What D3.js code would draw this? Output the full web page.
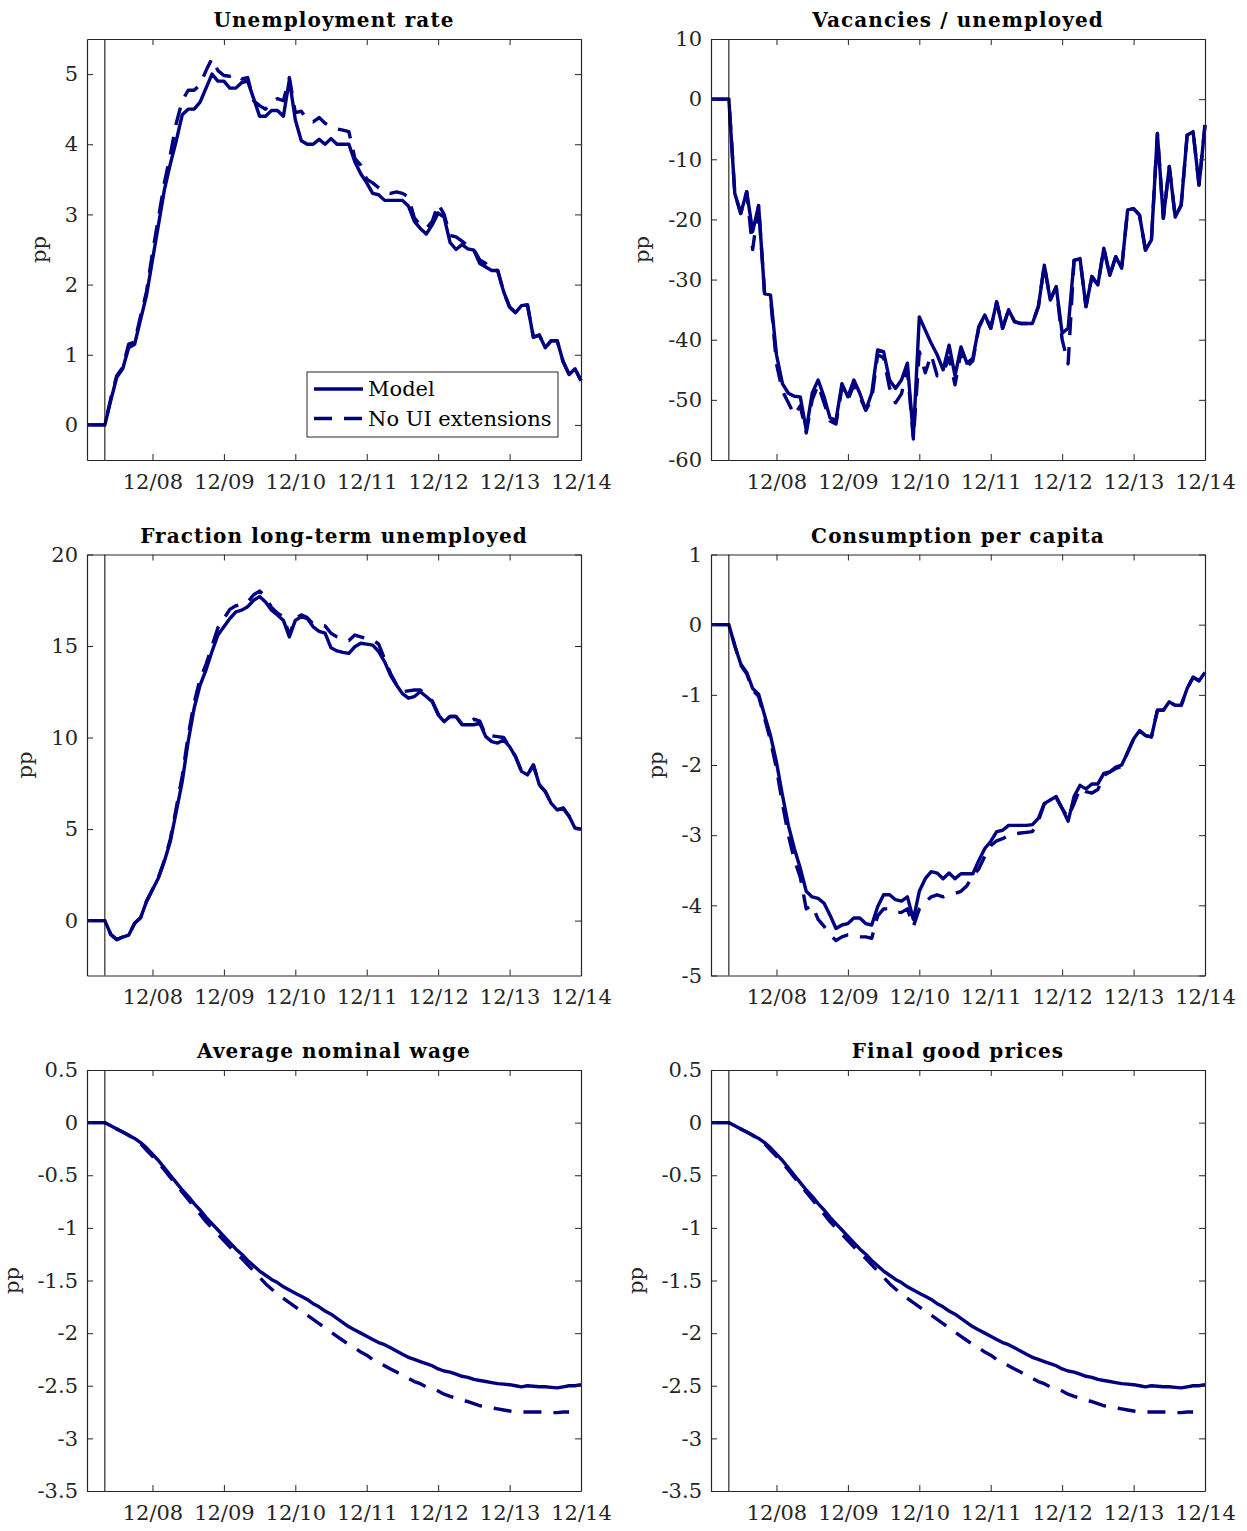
<!DOCTYPE html>
<html><head><meta charset="utf-8">
<script src="https://cdn.jsdelivr.net/npm/d3@7/dist/d3.min.js"></script>
<style>body{margin:0;background:#fff}svg{display:block}</style>
</head><body>
<svg id="chart" width="1247" height="1531"></svg>
<script>
// month index 0 = Jan 2008 ... 83 = Dec 2014
const monthIdx = d3.range(84);
const shockMonth = 3;
const xTickMonths = [11, 23, 35, 47, 59, 71, 83];
const xTickLabels = ["12/08", "12/09", "12/10", "12/11", "12/12", "12/13", "12/14"];
const seriesNames = ["Model", "No UI extensions"];

const titles = ["Unemployment rate", "Vacancies / unemployed", "Fraction long-term unemployed",
                "Consumption per capita", "Average nominal wage", "Final good prices"];
const yDomains = [[-0.5, 5.5], [-60, 10], [-3, 20], [-5, 1], [-3.5, 0.5], [-3.5, 0.5]];
const yTicks = [
  [0, 1, 2, 3, 4, 5],
  [-60, -50, -40, -30, -20, -10, 0, 10],
  [0, 5, 10, 15, 20],
  [-5, -4, -3, -2, -1, 0, 1],
  [-3.5, -3, -2.5, -2, -1.5, -1, -0.5, 0, 0.5],
  [-3.5, -3, -2.5, -2, -1.5, -1, -0.5, 0, 0.5]
];

const unempModel = [
  0,0,0,0,0.35,0.68,0.8,1.1,1.15,1.5,1.85,
  2.35,2.85,3.35,3.72,4.05,4.42,4.5,4.5,4.6,4.8,
  5.0,4.9,4.9,4.8,4.8,4.88,4.9,4.65,4.4,4.4,
  4.48,4.48,4.4,4.92,4.35,4.05,4.0,4.0,4.07,4.0,
  4.08,4.0,4.0,4.0,3.75,3.58,3.45,3.3,3.28,3.2,
  3.2,3.2,3.2,3.12,2.9,2.8,2.72,2.85,3.02,2.96,
  2.6,2.5,2.57,2.51,2.49,2.3,2.25,2.2,2.2,1.9,
  1.68,1.6,1.7,1.71,1.25,1.28,1.1,1.2,1.2,0.9,
  0.72,0.8,0.63];
const unempNoUI = [
  0,0,0,0,0.38,0.7,0.82,1.15,1.18,1.55,1.9,
  2.45,2.95,3.45,3.85,4.3,4.62,4.77,4.77,4.85,5.05,
  5.22,5.05,4.98,4.97,5.0,4.93,4.95,4.62,4.55,4.5,
  4.6,4.65,4.62,4.95,4.45,4.47,4.35,4.32,4.38,4.3,
  4.25,4.22,4.2,4.18,3.8,3.7,3.5,3.45,3.38,3.32,
  3.3,3.32,3.3,3.25,2.95,2.85,2.8,2.9,3.15,3.0,
  2.7,2.68,2.62,2.55,2.5,2.35,2.3,2.2,2.2,1.9,
  1.68,1.6,1.7,1.71,1.25,1.28,1.1,1.2,1.2,0.9,
  0.72,0.8,0.63];

const vuModel = [
  0,0,0,0,-15.7,-19,-15.4,-22,-17.7,-32.3,-32.6,
  -42.5,-47.3,-48.9,-49.4,-49.5,-55,-48.9,-46.7,-49.5,-53,
  -53.4,-47.3,-49.5,-46.7,-48.9,-51.7,-48.9,-41.7,-42,-46.7,
  -48.1,-46.7,-43.9,-56.1,-36.2,-38.4,-40.6,-42.5,-45,-40.9,
  -46,-41.2,-43.9,-43.1,-37.8,-35.9,-38.1,-33.7,-38.1,-35,
  -37,-37.3,-37.3,-37.3,-34.5,-27.6,-33.4,-31.2,-38.9,-38.1,
  -26.8,-26.5,-34.5,-29.5,-30.9,-24.8,-29.3,-26.2,-28.1,-18.4,
  -18.2,-19.3,-25.1,-23.4,-5.7,-19.8,-11.2,-19.6,-17.6,-6.0,
  -5.4,-14.3,-4.3];
const vuNoUI = [
  0,0,0,0,-15.7,-19,-15.4,-25,-17.7,-32.3,-33,
  -44,-48.5,-50.5,-52.5,-51,-55.5,-50,-47.5,-50.5,-53.5,
  -54,-48,-50,-47.5,-49.5,-51.7,-50,-42.5,-43,-48,
  -50.5,-49,-45,-56.5,-42,-45.5,-42.5,-46,-45.5,-43,
  -47.5,-42,-44.5,-43.5,-38,-35.9,-38.1,-33.7,-38.1,-35,
  -37,-37.3,-37.3,-37.3,-34.5,-27.6,-33.4,-31.2,-40,-44,
  -26.8,-26.5,-34.5,-29.5,-30.9,-24.8,-29.3,-26.2,-28.1,-18.4,
  -18.2,-19.3,-25.1,-23.4,-5.7,-19.8,-11.2,-19.6,-17.6,-6.0,
  -5.4,-14.3,-4.3];

const ltuModel = [
  0,0,0,0,-0.76,-1.04,-0.9,-0.8,-0.15,0.15,1.05,
  1.69,2.33,3.24,4.33,5.96,7.6,9.78,11.6,12.87,13.7,
  14.7,15.6,16.05,16.5,16.87,16.96,17.15,17.5,17.7,17.4,
  16.96,16.7,16.4,15.5,16.4,16.6,16.5,16.05,15.8,15.7,
  14.9,14.73,14.65,14.6,14.96,15.15,15.1,15.05,14.7,14.15,
  13.4,12.87,12.4,12.15,12.24,12.5,12.24,11.96,11.24,10.87,
  11.15,11.15,10.7,10.7,10.7,10.78,10.05,9.78,9.7,9.87,
  9.5,8.96,8.15,7.96,8.5,7.42,7.05,6.4,6.05,6.15,
  5.7,5.05,5.0];
const ltuNoUI = [
  0,0,0,0,-0.76,-1.04,-0.9,-0.8,-0.15,0.15,1.05,
  1.7,2.35,3.3,4.45,6.15,7.9,10.1,11.9,13.2,14.0,
  15.0,16.0,16.5,17.0,17.2,17.25,17.4,17.8,18.0,17.7,
  17.1,16.8,16.6,15.6,16.5,16.7,16.55,16.2,16.15,16.1,
  15.7,15.5,15.4,15.3,15.6,15.5,15.4,15.35,15.1,14.3,
  13.5,12.9,12.5,12.55,12.6,12.6,12.3,12.0,11.3,10.9,
  11.15,11.15,10.75,10.8,11.0,10.9,10.1,10.1,10.05,10.0,
  9.5,8.96,8.15,7.96,8.5,7.42,7.05,6.4,6.05,6.15,
  5.7,5.05,5.0];

const consModel = [
  0,0,0,0,-0.3,-0.56,-0.68,-0.91,-0.99,-1.29,-1.58,
  -1.96,-2.43,-2.86,-3.19,-3.47,-3.8,-3.88,-3.9,-3.97,-4.14,
  -4.33,-4.28,-4.26,-4.18,-4.18,-4.26,-4.28,-4.02,-3.85,-3.85,
  -3.92,-3.94,-3.88,-4.2,-3.8,-3.62,-3.52,-3.54,-3.62,-3.54,
  -3.62,-3.55,-3.55,-3.55,-3.36,-3.19,-3.09,-2.95,-2.93,-2.86,
  -2.86,-2.86,-2.86,-2.85,-2.76,-2.55,-2.5,-2.45,-2.62,-2.8,
  -2.45,-2.29,-2.34,-2.27,-2.27,-2.12,-2.1,-2.03,-2.0,-1.82,
  -1.63,-1.51,-1.58,-1.6,-1.22,-1.22,-1.1,-1.15,-1.15,-0.91,
  -0.75,-0.8,-0.68];
const consNoUI = [
  0,0,0,0,-0.3,-0.58,-0.7,-0.93,-1.02,-1.33,-1.65,
  -2.05,-2.55,-3.0,-3.35,-3.6,-4.05,-4.0,-4.2,-4.3,-4.42,
  -4.5,-4.45,-4.42,-4.42,-4.45,-4.45,-4.47,-4.15,-4.05,-4.05,
  -4.1,-4.1,-4.05,-4.3,-4.05,-3.95,-3.88,-3.85,-3.88,-3.85,
  -3.83,-3.8,-3.72,-3.58,-3.48,-3.3,-3.15,-3.08,-3.05,-3.0,
  -2.98,-2.97,-2.96,-2.95,-2.8,-2.55,-2.52,-2.47,-2.62,-2.75,
  -2.55,-2.33,-2.38,-2.4,-2.35,-2.15,-2.1,-2.05,-2.02,-1.82,
  -1.63,-1.51,-1.58,-1.6,-1.22,-1.22,-1.1,-1.15,-1.15,-0.91,
  -0.75,-0.8,-0.68];

const wageModel = [
  0,0,0,0,-0.03,-0.06,-0.09,-0.12,-0.15,-0.19,-0.24,
  -0.3,-0.36,-0.43,-0.5,-0.57,-0.64,-0.7,-0.77,-0.83,-0.9,
  -0.96,-1.02,-1.08,-1.14,-1.2,-1.25,-1.31,-1.36,-1.41,-1.45,
  -1.49,-1.52,-1.56,-1.59,-1.62,-1.65,-1.68,-1.72,-1.75,-1.79,
  -1.82,-1.86,-1.9,-1.94,-1.97,-2.0,-2.03,-2.06,-2.09,-2.11,
  -2.14,-2.17,-2.2,-2.23,-2.25,-2.27,-2.29,-2.31,-2.34,-2.36,
  -2.37,-2.39,-2.41,-2.42,-2.44,-2.45,-2.46,-2.47,-2.48,-2.485,
  -2.49,-2.5,-2.51,-2.5,-2.505,-2.51,-2.51,-2.515,-2.52,-2.51,
  -2.5,-2.5,-2.49];
const wageNoUI = [
  0,0,0,0,-0.03,-0.06,-0.09,-0.12,-0.16,-0.2,-0.26,
  -0.32,-0.38,-0.45,-0.52,-0.59,-0.66,-0.73,-0.8,-0.87,-0.94,
  -1.0,-1.06,-1.12,-1.18,-1.24,-1.29,-1.35,-1.41,-1.47,-1.53,
  -1.58,-1.63,-1.67,-1.71,-1.75,-1.79,-1.83,-1.87,-1.91,-1.95,
  -1.99,-2.03,-2.07,-2.11,-2.14,-2.18,-2.21,-2.25,-2.28,-2.31,
  -2.34,-2.37,-2.4,-2.43,-2.46,-2.48,-2.51,-2.53,-2.55,-2.58,
  -2.6,-2.62,-2.64,-2.65,-2.67,-2.69,-2.7,-2.71,-2.72,-2.73,
  -2.74,-2.75,-2.75,-2.75,-2.75,-2.75,-2.75,-2.755,-2.755,-2.75,
  -2.75];

const priceModel = [
  0,0,0,0,-0.03,-0.06,-0.09,-0.12,-0.15,-0.19,-0.24,
  -0.3,-0.36,-0.43,-0.5,-0.57,-0.64,-0.7,-0.77,-0.83,-0.9,
  -0.96,-1.02,-1.08,-1.14,-1.2,-1.25,-1.31,-1.36,-1.41,-1.45,
  -1.49,-1.52,-1.56,-1.59,-1.62,-1.65,-1.68,-1.72,-1.75,-1.79,
  -1.82,-1.86,-1.9,-1.94,-1.97,-2.0,-2.03,-2.06,-2.09,-2.11,
  -2.14,-2.17,-2.2,-2.23,-2.25,-2.27,-2.29,-2.31,-2.34,-2.36,
  -2.37,-2.39,-2.41,-2.42,-2.44,-2.45,-2.46,-2.47,-2.48,-2.485,
  -2.49,-2.5,-2.51,-2.5,-2.505,-2.51,-2.51,-2.515,-2.52,-2.51,
  -2.5,-2.5,-2.49];
const priceNoUI = [
  0,0,0,0,-0.03,-0.06,-0.09,-0.12,-0.16,-0.2,-0.26,
  -0.32,-0.38,-0.45,-0.52,-0.59,-0.66,-0.73,-0.8,-0.87,-0.94,
  -1.0,-1.06,-1.12,-1.18,-1.24,-1.29,-1.35,-1.41,-1.47,-1.53,
  -1.58,-1.63,-1.67,-1.71,-1.75,-1.79,-1.83,-1.87,-1.91,-1.95,
  -1.99,-2.03,-2.07,-2.11,-2.14,-2.18,-2.21,-2.25,-2.28,-2.31,
  -2.34,-2.37,-2.4,-2.43,-2.46,-2.48,-2.51,-2.53,-2.55,-2.58,
  -2.6,-2.62,-2.64,-2.65,-2.67,-2.69,-2.7,-2.71,-2.72,-2.73,
  -2.74,-2.75,-2.75,-2.75,-2.75,-2.75,-2.75,-2.755,-2.755,-2.75,
  -2.75];

const modelSeries = [unempModel, vuModel, ltuModel, consModel, wageModel, priceModel];
const noUISeries  = [unempNoUI, vuNoUI, ltuNoUI, consNoUI, wageNoUI, priceNoUI];

// ---------- layout / style ----------
const COLOR = "#000080", AXC = "#262626";
const FONT = "'DejaVu Serif', serif";
const colX = [87, 711], rowY = [39, 554.5, 1070];
const PW = 494, PH = 421;
const LW = 3.4, DASH = "18,12";

const svg = d3.select("#chart");
svg.append("rect").attr("width", 1247).attr("height", 1531).attr("fill", "#fff");

titles.forEach((t, k) => {
  const ox = colX[k % 2], oy = rowY[Math.floor(k / 2)];
  const g = svg.append("g").attr("transform", `translate(${ox},${oy})`);
  const x = d3.scaleLinear().domain([0, 83]).range([0, PW]);
  const y = d3.scaleLinear().domain(yDomains[k]).range([PH, 0]);
  const line = d3.line().x((d, i) => x(monthIdx[i])).y(d => y(d));

  g.append("path").datum(modelSeries[k]).attr("d", line)
    .attr("fill", "none").attr("stroke", COLOR).attr("stroke-width", LW)
    .attr("stroke-linejoin", "round");
  g.append("path").datum(noUISeries[k]).attr("d", line)
    .attr("fill", "none").attr("stroke", COLOR).attr("stroke-width", LW)
    .attr("stroke-dasharray", DASH).attr("stroke-linejoin", "round");

  // shock vertical line
  g.append("line").attr("x1", x(shockMonth)).attr("x2", x(shockMonth))
    .attr("y1", 0).attr("y2", PH).attr("stroke", "#000").attr("stroke-width", 1);

  // axes (box with inward ticks)
  const fmtY = d => String(d);
  const ax = [
    g.append("g").attr("transform", `translate(0,${PH})`)
      .call(d3.axisBottom(x).tickValues(xTickMonths).tickFormat((d, i) => xTickLabels[i])
        .tickSizeInner(-6).tickSizeOuter(0).tickPadding(14)),
    g.append("g").call(d3.axisTop(x).tickValues(xTickMonths).tickFormat("")
        .tickSizeInner(-6).tickSizeOuter(0)),
    g.append("g").call(d3.axisLeft(y).tickValues(yTicks[k]).tickFormat(fmtY)
        .tickSizeInner(-6).tickSizeOuter(0).tickPadding(9)),
    g.append("g").attr("transform", `translate(${PW},0)`)
      .call(d3.axisRight(y).tickValues(yTicks[k]).tickFormat("")
        .tickSizeInner(-6).tickSizeOuter(0))
  ];
  ax.forEach(a => {
    a.select(".domain").attr("stroke", AXC).attr("stroke-width", 1.2);
    a.selectAll(".tick line").attr("stroke", AXC).attr("stroke-width", 1);
    a.selectAll("text").attr("fill", AXC).style("font-family", FONT).style("font-size", "21px");
  });

  // y label "pp"
  let minLeft = 0;
  ax[2].selectAll("text").each(function () {
    const b = this.getBBox();
    minLeft = Math.min(minLeft, b.x);
  });
  const labX = Math.max(minLeft - 19, -ox + 14);
  g.append("text").attr("transform", `translate(${labX},${PH / 2}) rotate(-90)`)
    .attr("text-anchor", "middle").attr("fill", AXC)
    .style("font-family", FONT).style("font-size", "21px").text("pp");

  // title
  g.append("text").attr("x", PW / 2).attr("y", -12).attr("text-anchor", "middle")
    .attr("fill", "#000").style("font-family", FONT).style("font-size", "20px")
    .style("font-weight", "bold").style("letter-spacing", "1.1px").text(t);

  // legend in first panel
  if (k === 0) {
    const lw = 251, lh = 65;
    const lg = g.append("g").attr("transform", `translate(${PW - 23 - lw},${PH - 23 - lh})`);
    lg.append("rect").attr("width", lw).attr("height", lh).attr("fill", "#fff")
      .attr("stroke", AXC).attr("stroke-width", 1);
    seriesNames.forEach((nm, j) => {
      const yy = 17 + j * 29.5;
      lg.append("line").attr("x1", 7).attr("x2", 56).attr("y1", yy).attr("y2", yy)
        .attr("stroke", COLOR).attr("stroke-width", LW)
        .attr("stroke-dasharray", j === 1 ? DASH : null);
      lg.append("text").attr("x", 61).attr("y", yy).attr("dy", "0.35em")
        .attr("fill", "#000").style("font-family", FONT).style("font-size", "21px").text(nm);
    });
  }
});
</script>
</body></html>
